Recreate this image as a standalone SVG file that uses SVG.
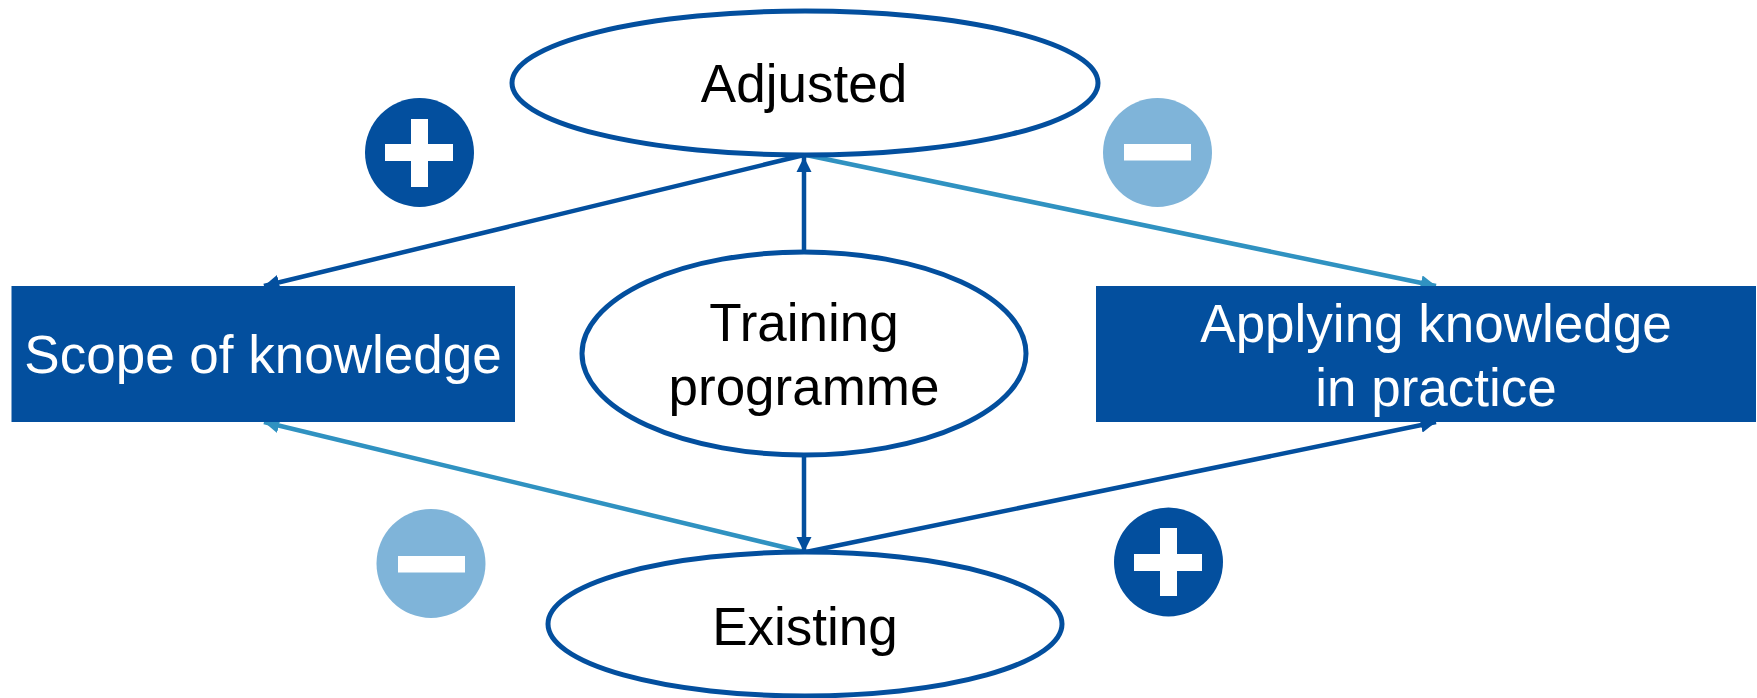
<svg xmlns="http://www.w3.org/2000/svg" width="1757" height="698" viewBox="0 0 1757 698">
<style>
.box{fill:#034F9E;}
.oval{fill:#ffffff;stroke:#034F9E;stroke-width:5;}
.lbl{font-family:"Liberation Sans",Arial,sans-serif;font-size:53px;text-anchor:middle;}
.w{fill:#ffffff;}
.k{fill:#000000;}
.dark{stroke:#034F9E;stroke-width:4.5;fill:none;}
.light{stroke:#3092C1;stroke-width:4.5;fill:none;}
.bar{fill:#ffffff;}
</style>
<defs>
<marker id="ad" viewBox="0 0 10 10" refX="10" refY="5" markerWidth="3.4" markerHeight="3.4" orient="auto" markerUnits="strokeWidth">
<path d="M0,0 L10,5 L0,10 z" fill="#034F9E"/>
</marker>
<marker id="al" viewBox="0 0 10 10" refX="10" refY="5" markerWidth="3.4" markerHeight="3.4" orient="auto" markerUnits="strokeWidth">
<path d="M0,0 L10,5 L0,10 z" fill="#3092C1"/>
</marker>
</defs>
<rect width="1757" height="698" fill="#ffffff"/>
<g id="connectors">
<line class="dark" x1="804" y1="155" x2="264" y2="286" marker-end="url(#ad)"/>
<line class="light" x1="806" y1="155" x2="1436" y2="286" marker-end="url(#al)"/>
<line class="light" x1="804" y1="552" x2="264" y2="422" marker-end="url(#al)"/>
<line class="dark" x1="806" y1="552" x2="1436" y2="422" marker-end="url(#ad)"/>
<line class="dark" x1="804" y1="252" x2="804" y2="157" marker-end="url(#ad)"/>
<line class="dark" x1="804" y1="455" x2="804" y2="552" marker-end="url(#ad)"/>
</g>
<g id="node-adjusted">
<ellipse class="oval" cx="805" cy="83" rx="293" ry="72"/>
<text class="lbl k" x="804" y="102">Adjusted</text>
</g>
<g id="node-training">
<ellipse class="oval" cx="804" cy="353.5" rx="222" ry="101.5"/>
<text class="lbl k" x="804" y="341">Training</text>
<text class="lbl k" x="804" y="405">programme</text>
</g>
<g id="node-existing">
<ellipse class="oval" cx="805" cy="624" rx="257" ry="72"/>
<text class="lbl k" x="805" y="645">Existing</text>
</g>
<g id="node-scope">
<rect class="box" x="11.5" y="286" width="503.5" height="136"/>
<text class="lbl w" x="263" y="373">Scope of knowledge</text>
</g>
<g id="node-applying">
<rect class="box" x="1096" y="286" width="660" height="136"/>
<text class="lbl w" x="1436" y="342">Applying knowledge</text>
<text class="lbl w" x="1436" y="406">in practice</text>
</g>
<g id="icon-plus-top">
<circle cx="419.5" cy="152.5" r="54.5" fill="#034F9E"/>
<rect class="bar" x="385" y="144" width="68" height="17"/>
<rect class="bar" x="411" y="119" width="17" height="68"/>
</g>
<g id="icon-minus-top">
<circle cx="1157.5" cy="152.5" r="54.5" fill="#7FB4D9"/>
<rect class="bar" x="1124" y="144" width="67" height="16.5"/>
</g>
<g id="icon-minus-bottom">
<circle cx="431" cy="563.5" r="54.5" fill="#7FB4D9"/>
<rect class="bar" x="398" y="556" width="67" height="16.5"/>
</g>
<g id="icon-plus-bottom">
<circle cx="1168.5" cy="562" r="54.5" fill="#034F9E"/>
<rect class="bar" x="1134" y="554" width="68" height="17"/>
<rect class="bar" x="1160" y="528" width="17" height="68"/>
</g>
</svg>
